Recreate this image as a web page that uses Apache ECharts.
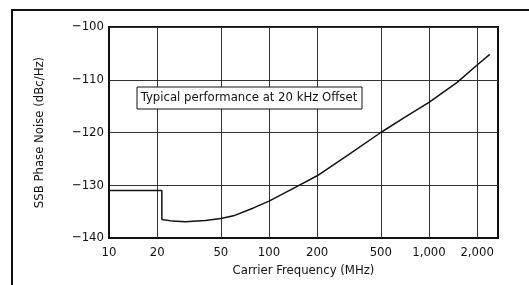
<!DOCTYPE html>
<html>
<head>
<meta charset="utf-8">
<script src="https://cdn.jsdelivr.net/npm/echarts@6/dist/echarts.min.js"></script>
<style>
  html, body { margin: 0; padding: 0; background: #fff; }
  #chart { width: 529px; height: 285px; }
</style>
</head>
<body>
<div id="chart"></div>
<script>
// carrier frequency (MHz) vs SSB phase noise (dBc/Hz)
const freqs = [10, 21.4, 21.4, 25, 30, 40, 50, 60, 80, 100, 150, 200, 300, 500, 700, 1000, 1500, 2000, 2400];
const noise = [-131, -131, -136.5, -136.8, -136.9, -136.7, -136.3, -135.8, -134.3, -133, -130.2, -128.2, -124.6, -120, -117.2, -114.3, -110.5, -107.2, -105.2];
const xTicks = [10, 20, 50, 100, 200, 500, 1000, 2000];
const yTicks = [-140, -130, -120, -110, -100];
const note = 'Typical performance at 20 kHz Offset';

const FONT = '"Liberation Sans Narrow", "DejaVu Sans Condensed", sans-serif';
const chart = echarts.init(document.getElementById('chart'), null, { renderer: 'canvas' });

chart.setOption({
  animation: false,
  grid: {
    left: 109, right: 31, top: 27, bottom: 47,
    show: true, borderColor: '#111', borderWidth: 2,
    outerBoundsMode: 'none'
  },
  graphic: [
    {
      type: 'rect', silent: true, z: 0,
      shape: { x: 12, y: 10, width: 560, height: 320 },
      style: { fill: 'none', stroke: '#111', lineWidth: 2 }
    },
    {
      type: 'rect', z: 100,
      shape: { x: 137, y: 87, width: 225, height: 22 },
      style: { fill: '#fff', stroke: '#111', lineWidth: 1 }
    },
    {
      type: 'text', z: 101,
      x: 249, y: 98,
      style: {
        text: note, font: '13px ' + FONT, fill: '#111',
        align: 'center', verticalAlign: 'middle'
      }
    }
  ],
  xAxis: {
    type: 'log', logBase: 10, min: 10, max: 2700,
    name: 'Carrier Frequency (MHz)', nameLocation: 'middle', nameGap: 25,
    nameTextStyle: { fontFamily: FONT, fontSize: 13, color: '#111' },
    axisLine: { show: true, lineStyle: { color: '#111', width: 2 } },
    axisTick: { show: false, customValues: xTicks },
    axisLabel: {
      customValues: xTicks, margin: 8,
      fontFamily: FONT, fontSize: 13, color: '#111',
      formatter: v => Number(v).toLocaleString('en-US')
    },
    splitLine: { show: true, lineStyle: { color: '#333', width: 1 } },
    minorSplitLine: { show: false }
  },
  yAxis: {
    type: 'value', min: yTicks[0], max: yTicks[yTicks.length - 1], interval: 10,
    name: 'SSB Phase Noise (dBc/Hz)', nameLocation: 'middle', nameGap: 63, nameRotate: 90,
    nameTextStyle: { fontFamily: FONT, fontSize: 13, color: '#111' },
    axisLine: { show: true, lineStyle: { color: '#111', width: 2 } },
    axisTick: { show: false },
    axisLabel: {
      margin: 5, fontFamily: FONT, fontSize: 13, color: '#111',
      formatter: v => String(v).replace('-', '\u2212')
    },
    splitLine: { show: true, lineStyle: { color: '#333', width: 1 } }
  },
  series: [{
    type: 'line',
    data: freqs.map((f, i) => [f, noise[i]]),
    symbol: 'none',
    lineStyle: { color: '#111', width: 1.5 },
    z: 5
  }]
});
</script>
</body>
</html>
